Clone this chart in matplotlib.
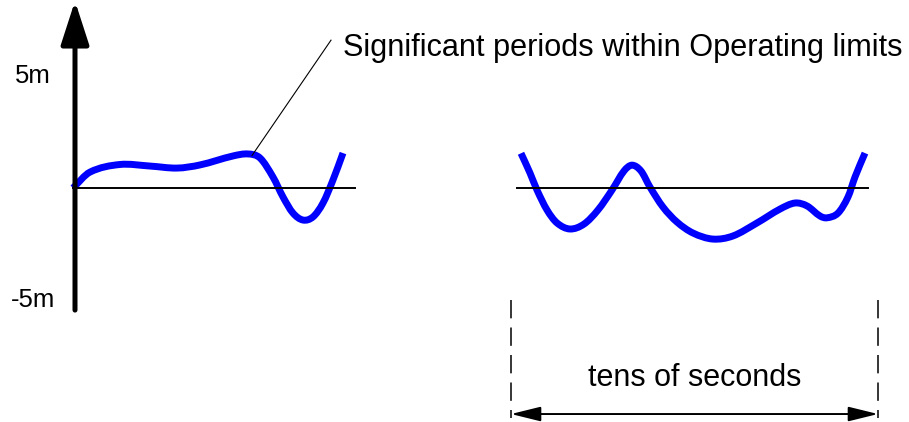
"""
Sketch of wave height over time, with a time-span marker.
"""
import matplotlib.pyplot as plt
from matplotlib.path import Path
from matplotlib.patches import PathPatch

plt.rcParams['font.family'] = ['Liberation Sans', 'DejaVu Sans']

# left trace: time (s) and height (m)
left_t = [0.0, 1.7, 4.7, 7.7, 10.4, 12.7, 16.0, 17.5, 18.7,
          20.0, 21.0, 22.0, 23.0, 24.0, 25.0, 26.0, 27.0]
left_h = [0.0, 0.71, 1.05, 0.98, 0.89, 1.03, 1.43, 1.52, 1.34,
          0.49, -0.40, -1.12, -1.43, -1.29, -0.67, 0.36, 1.56]

# right trace
right_t = [44.8, 45.7, 46.4, 47.4, 48.4, 49.7, 51.1, 52.5, 53.9, 55.1,
           55.9, 56.8, 57.7, 59.0, 60.4, 62.0, 64.0, 66.0, 68.4, 70.7,
           72.2, 73.4, 74.7, 75.4, 76.5, 77.5, 78.2, 79.2]
right_h = [1.55, 0.67, -0.09, -0.98, -1.56, -1.83, -1.61, -0.98, -0.09, 0.76,
           1.02, 0.76, 0.04, -0.85, -1.52, -2.01, -2.28, -2.14, -1.56, -0.94,
           -0.67, -0.80, -1.25, -1.33, -1.12, -0.40, 0.49, 1.56]

y_tick_vals = [5, -5]
y_tick_text = ['5m', '-5m']

note_text = 'Significant periods within Operating limits'
span_text = 'tens of seconds'
span_start, span_end = 43.8, 80.5


def smooth_path(xs, ys):
    """Smooth Hermite curve through the points, as cubic Bezier segments."""
    n = len(xs)
    slopes = []
    for i in range(n):
        a = max(i - 1, 0)
        b = min(i + 1, n - 1)
        slopes.append((ys[b] - ys[a]) / (xs[b] - xs[a]))
    verts = [(xs[0], ys[0])]
    codes = [Path.MOVETO]
    for i in range(n - 1):
        dx = (xs[i + 1] - xs[i]) / 3
        verts += [(xs[i] + dx, ys[i] + slopes[i] * dx),
                  (xs[i + 1] - dx, ys[i + 1] - slopes[i + 1] * dx),
                  (xs[i + 1], ys[i + 1])]
        codes += [Path.CURVE4] * 3
    return Path(verts, codes)


fig = plt.figure(figsize=(9.09, 4.22), dpi=100)
ax = fig.add_axes([0, 0, 1, 1])
ax.set_xlim(-7.3, 83.6)
ax.set_ylim(-10.446, 8.393)
ax.axis('off')

# vertical axis with arrow head
ax.annotate('', xy=(0.2, 8.35), xytext=(0.2, -5.45),
            arrowprops=dict(arrowstyle='-|>,head_length=1.33,head_width=0.43',
                            mutation_scale=20, lw=3.6, color='black',
                            shrinkA=0, shrinkB=0))
for v, s in zip(y_tick_vals, y_tick_text):
    ax.text(-4.0, v, s, fontsize=18.5, ha='center', va='center')

# zero lines
ax.plot([0, 28.2], [0, 0], color='black', lw=1.4)
ax.plot([44.4, 79.5], [0, 0], color='black', lw=1.4)

# traces
for xs, ys in ((left_t, left_h), (right_t, right_h)):
    ax.add_patch(PathPatch(smooth_path(xs, ys), facecolor='none',
                           edgecolor='#0000ff', lw=5.0, joinstyle='round',
                           capstyle='butt'))

# annotation leader and label
ax.plot([17.9, 25.8], [1.45, 6.6], color='black', lw=0.8)
ax.text(27.0, 6.25, note_text, fontsize=22.1, ha='left', va='center')

# span marker
for x in (span_start, span_end):
    ax.plot([x, x], [-5.0, -10.27], color='black', lw=1.1, dashes=(12, 6))
ax.annotate('', xy=(span_start, -10.09), xytext=(span_end, -10.09),
            arrowprops=dict(arrowstyle='<|-|>,head_length=1.3,head_width=0.32',
                            mutation_scale=14, lw=1.4, color='black',
                            shrinkA=0, shrinkB=0))
ax.text((span_start + span_end) / 2, -8.48, span_text, fontsize=22,
        ha='center', va='center')

fig.savefig('out.png', dpi=100)
